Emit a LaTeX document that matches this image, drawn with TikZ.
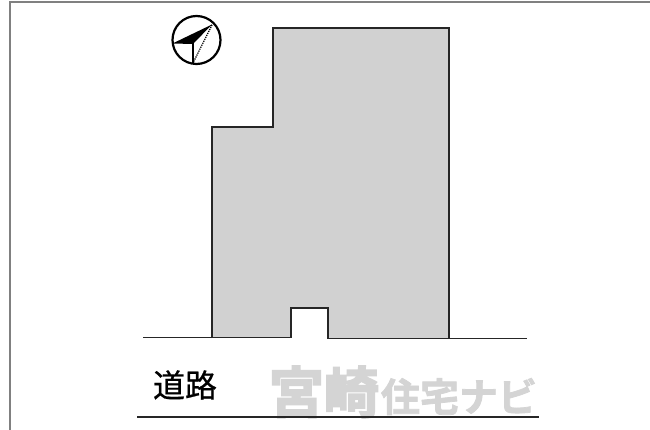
\documentclass[tikz,border=0pt]{standalone}
\usepackage{fontspec}
\newfontfamily\cjk[FakeBold=0.6]{Noto Sans CJK JP}
\newfontfamily\cjkheavy[FakeBold=3.5]{Noto Sans CJK JP Bold}
\newfontfamily\cjkmid[FakeBold=2]{Noto Sans CJK JP Bold}
\begin{document}
\begin{tikzpicture}[x=1pt,y=-1pt,
  frameline/.style={draw=black!50,line width=1.6pt},
  ink/.style={draw=black!85,line width=1.5pt},
  mark1/.style={inner sep=0pt,text=black!17}]
\useasboundingbox (0,0) rectangle (650,430);
\fill[white] (0,0) rectangle (650,430);
\draw[frameline] (650,2) -- (10,2) -- (10,430);
% building
\path[fill=black!18] (212,127)--(273,127)--(273,28)--(449,28)--(449,338)--(328,338)--(328,308)--(291,308)--(291,337)--(212,337)--cycle;
\draw[ink] (212,338)--(212,127)--(273,127)--(273,28)--(449,28)--(449,338);
\draw[ink] (143,337.5)--(291,337.5)--(291,308)--(328,308)--(328,338.5)--(527,338.5);
% compass
\coordinate (c) at (196.5,40);
\draw[black,line width=2.2pt] (c) circle (24);
\fill[black] (172.5,43.5)--(212,24.5)--(193,44)--cycle;
\draw[black,line width=1.4pt] (193,43)--(193,63);
\draw[black,line width=1.2pt,densely dotted] (212,25)--(193,63);
% text
\node[inner sep=0pt,font=\cjk\fontsize{32}{32}\selectfont,text=black] (road) at (185,385) {道路};
\node[mark1,font=\cjkheavy\fontsize{55}{55}\selectfont] (wm1) at (324,392) {宮崎};
\node[mark1,font=\cjkmid\fontsize{39}{39}\selectfont] (wm2) at (459,396.5) {住宅ナビ};
\draw[ink] (137,417)--(539,417);
\end{tikzpicture}
\end{document}
